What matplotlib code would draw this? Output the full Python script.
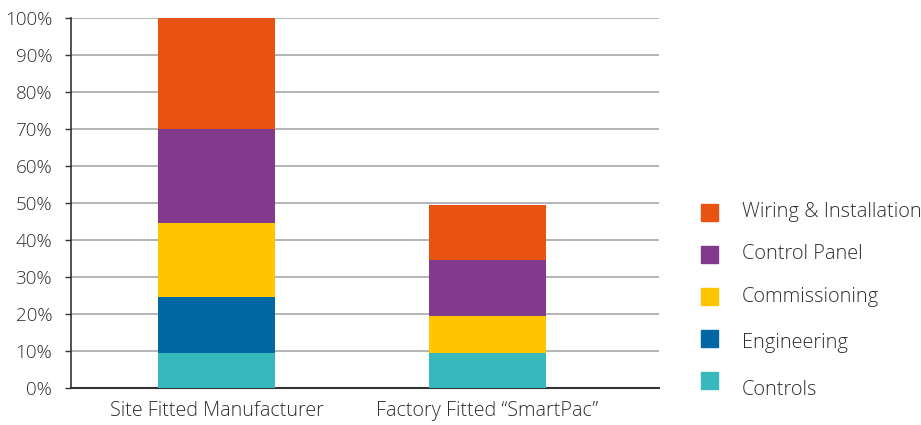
import matplotlib
matplotlib.use("Agg")
import matplotlib.pyplot as plt
from matplotlib.patches import Rectangle

categories = ["Site Fitted Manufacturer", "Factory Fitted \u201cSmartPac\u201d"]
series_names = ["Controls", "Engineering", "Commissioning", "Control Panel", "Wiring & Installation"]
controls = [9.5, 9.5]
engineering = [15, 0]
commissioning = [20, 10]
control_panel = [25.5, 15]
wiring = [30, 15]
yticks = [0, 10, 20, 30, 40, 50, 60, 70, 80, 90, 100]
ytick_labels = [f"{v}%" for v in yticks]

colors = {
    "Controls": "#36B8BC",
    "Engineering": "#0066A4",
    "Commissioning": "#FFC600",
    "Control Panel": "#823A8C",
    "Wiring & Installation": "#E95311",
}
values = [controls, engineering, commissioning, control_panel, wiring]

plt.rcParams['font.family'] = ['Open Sans', 'DejaVu Sans']
plt.rcParams['font.weight'] = 'light'
text_color = "#2e2e2e"

fig = plt.figure(figsize=(9.21, 4.25), dpi=100)
ax = fig.add_axes([71/921, 37/425, (659-71)/921, 370/425])

x = [0, 1]
bottom = [0, 0]
for name, vals in zip(series_names, values):
    ax.bar(x, vals, width=0.43, bottom=bottom, color=colors[name], zorder=3, linewidth=0)
    bottom = [b + v for b, v in zip(bottom, vals)]

ax.set_ylim(0, 100)
ax.set_xlim(-0.537, 1.633)
ax.set_yticks(yticks)
ax.set_yticklabels(ytick_labels)
ax.set_xticks(x)
ax.set_xticklabels(categories)
ax.yaxis.grid(True, color="#A6A8AA", linewidth=1.2, zorder=0)
ax.set_axisbelow(True)
for s in ["top", "right"]:
    ax.spines[s].set_visible(False)
ax.spines["left"].set_color("#333333")
ax.spines["bottom"].set_color("#333333")
ax.spines["left"].set_linewidth(1.2)
ax.spines["bottom"].set_linewidth(1.5)
ax.tick_params(axis="y", length=4, width=1, color="#333333", labelsize=13.6, labelcolor=text_color, pad=9.5)
ax.tick_params(axis="x", length=0, labelsize=14.2, labelcolor=text_color, pad=9.5)

# legend (manual)
legend_order = ["Wiring & Installation", "Control Panel", "Commissioning", "Engineering", "Controls"]
sq_centers = [212.5, 254.5, 296.5, 338.5, 380.5]
txt_centers = [212, 254, 297, 343, 390]
for name, sy, ty in zip(legend_order, sq_centers, txt_centers):
    fig.patches.append(Rectangle((701/921, (425 - sy - 8.5)/425), 17/921, 17/425,
                                 transform=fig.transFigure, color=colors[name], figure=fig))
    fig.text(742/921, (425 - ty)/425, name, fontsize=14.4, color=text_color, va="center", ha="left")

fig.savefig("out.png", dpi=100)
